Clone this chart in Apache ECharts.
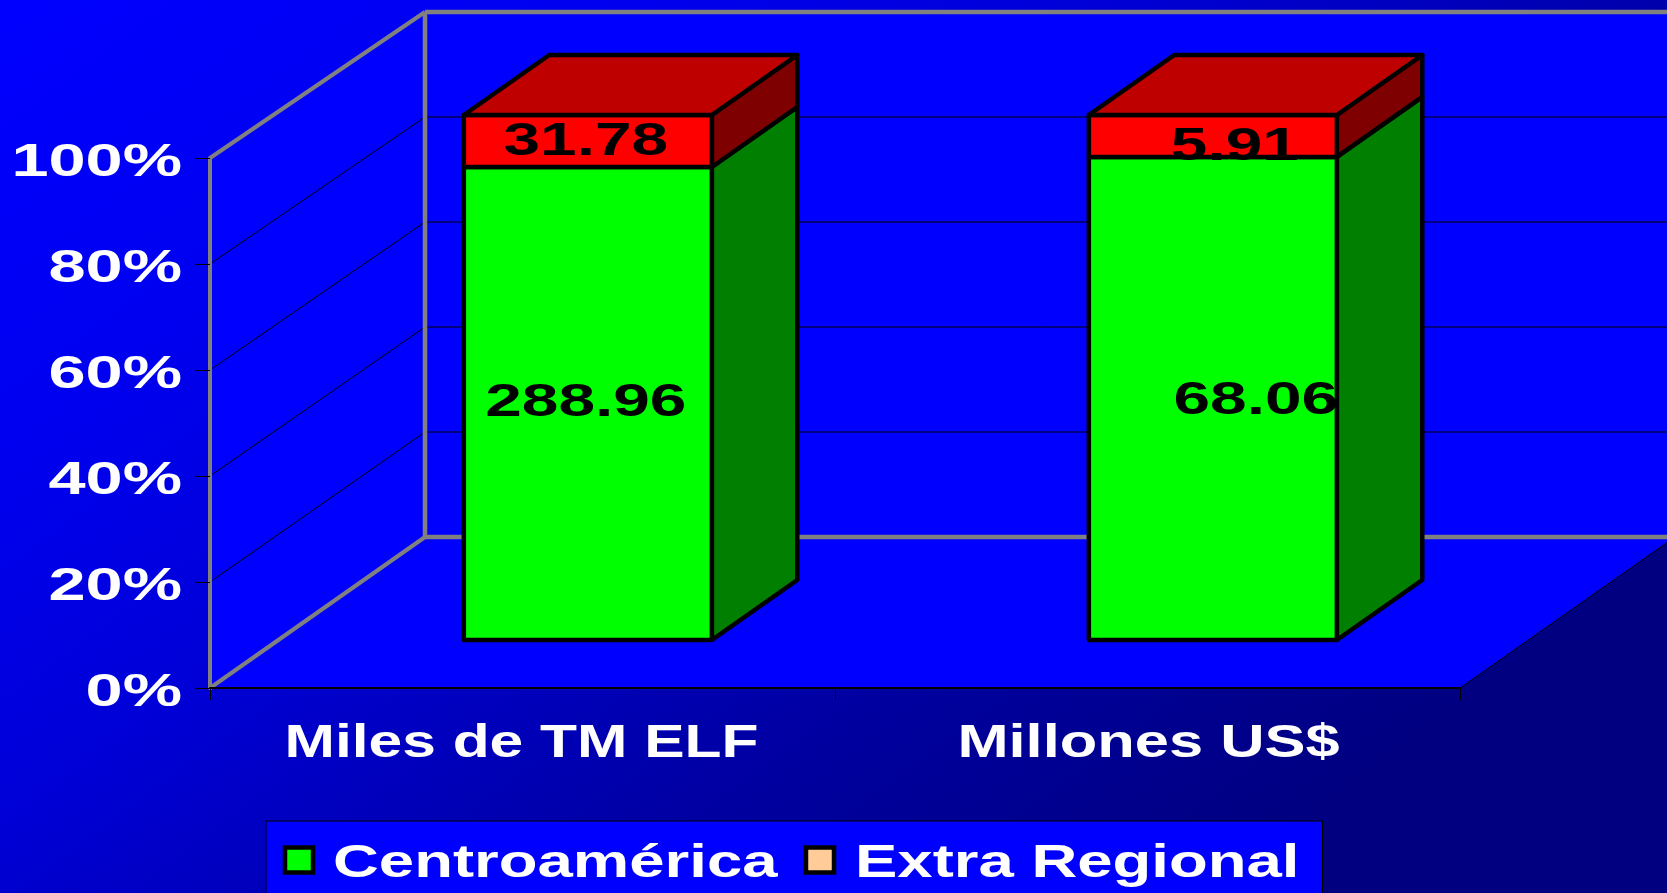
<!DOCTYPE html>
<html>
<head>
<meta charset="utf-8">
<style>html,body{margin:0;padding:0;background:#000080}#c{width:1667px;height:893px}</style>
<script src="https://cdn.jsdelivr.net/npm/echarts@6/dist/echarts.min.js"></script>
</head>
<body>
<div id="c"></div>
<script>
const categories = ['Miles de TM ELF', 'Millones US$'];
const seriesNames = ['Centroamérica', 'Extra Regional'];
const centroamerica = [288.96, 68.06];
const extraRegional = [31.78, 5.91];
const yTicks = [0, 20, 40, 60, 80, 100];
const yTickLabels = ['0%', '20%', '40%', '60%', '80%', '100%'];
const legendColors = ['#00FF00', '#FFCC99'];

const FONT = '"Liberation Sans", Arial, sans-serif';
const DX = 215, DY = 151, VSCALE = 525 / 530;
const D1 = 48 / 151, D2 = 108 / 151, BAR_W = 248, BAR_SHIFT = -3;
const LABEL_SHIFT = [[[-2, 0], [43, 3]], [[-2, 1], [22, 11]]];
const CATEGORY_SHIFT = [0, 2];
const CATEGORY_SCALE = [1.315, 1.335];
const FACE = [
  { front: '#00FF00', side: '#007F00' },
  { front: '#FF0000', side: '#7F0000', top: '#BF0000' }
];

const chart = echarts.init(document.getElementById('c'), null, { renderer: 'canvas' });

function stretched(text, x, y, align, size, sx, fill) {
  return {
    type: 'text', x: x, y: y, scaleX: sx, silent: true,
    style: { text: text, font: 'bold ' + size + 'px ' + FONT, fill: fill, align: align, verticalAlign: 'middle' }
  };
}
function projector(api) {
  const y0 = api.coord([0, 0])[1];
  return function (x, yScreen, d) {
    return [x + d * DX, y0 + (yScreen - y0) * VSCALE - d * DY];
  };
}

function renderWalls(params, api) {
  const cs = params.coordSys, p = projector(api);
  const L = cs.x, R = cs.x + cs.width;
  const yAt = v => api.coord([0, v])[1];
  const y0 = yAt(0), yT = yAt(100);
  const kids = [];
  const poly = (pts, fill) => kids.push({ type: 'polygon', silent: true, shape: { points: pts }, style: { fill: fill, stroke: null } });
  const line = (pts, color, w) => kids.push({ type: 'polyline', silent: true, shape: { points: pts }, style: { fill: null, stroke: color, lineWidth: w } });
  poly([p(L, yT, 1), p(R, yT, 1), p(R, y0, 1), p(L, y0, 1)], '#0000FF');
  poly([[L, yT], p(L, yT, 1), p(L, y0, 1), [L, y0]], '#0000FF');
  poly([[L, y0], p(L, y0, 1), p(R, y0, 1), [R, y0]], '#0000FF');
  yTicks.forEach(t => {
    if (t === 0 || t === 100) return;
    line([[L, yAt(t)], p(L, yAt(t), 1)], '#000000', 1);
    line([p(L, yAt(t), 1), p(R, yAt(t), 1)], '#000000', 1);
  });
  line([[R, y0], p(R, y0, 1)], '#000000', 1);
  line([[L, yT], p(L, yT, 1)], '#808080', 4);
  line([[L, y0], p(L, y0, 1)], '#808080', 4);
  line([p(L, yT, 1), p(R, yT, 1)], '#808080', 4.5);
  line([p(L, y0, 1), p(R, y0, 1)], '#808080', 4.5);
  line([p(L, yT, 1), p(L, y0, 1)], '#808080', 4.5);
  return { type: 'group', children: kids };
}

function renderBar(params, api) {
  const si = params.seriesIndex - 1;
  const i = api.value(0);
  const lo = api.coord([i, api.value(1)]);
  const hi = api.coord([i, api.value(2)]);
  const p = projector(api);
  const x1 = lo[0] + BAR_SHIFT - BAR_W / 2, x2 = x1 + BAR_W;
  const st = f => ({ fill: f, stroke: '#000000', lineWidth: 4.5, lineJoin: 'round' });
  const kids = [];
  const f1 = p(x1, lo[1], D1), f2 = p(x2, lo[1], D1), f3 = p(x2, hi[1], D1), f4 = p(x1, hi[1], D1);
  const b2 = p(x2, lo[1], D2), b3 = p(x2, hi[1], D2), b4 = p(x1, hi[1], D2);
  const face = FACE[si];
  kids.push({ type: 'polygon', silent: true, shape: { points: [f2, b2, b3, f3] }, style: st(face.side) });
  kids.push({ type: 'polygon', silent: true, shape: { points: [f1, f2, f3, f4] }, style: st(face.front) });
  if (face.top) kids.push({ type: 'polygon', silent: true, shape: { points: [f4, f3, b3, b4] }, style: st(face.top) });
  return { type: 'group', children: kids };
}

function renderBarLabel(params, api) {
  const s = api.value(3), i = api.value(0);
  const lo = api.coord([i, api.value(1)]), hi = api.coord([i, api.value(2)]);
  const p = projector(api);
  const a = p(lo[0] + BAR_SHIFT, (lo[1] + hi[1]) / 2, D1);
  const sh = LABEL_SHIFT[s][i];
  return stretched(api.value(4).toFixed(2), a[0] + sh[0], a[1] + sh[1], 'center', 46, 1.43, '#000000');
}

function renderYLabel(params, api) {
  const t = api.value(0);
  const y = api.coord([0, t])[1];
  return stretched(yTickLabels[yTicks.indexOf(t)], 182, y + 5, 'right', 46, 1.45, '#FFFFFF');
}
function renderXLabel(params, api) {
  const i = api.value(0);
  const c = api.coord([i, 0]);
  return stretched(categories[i], c[0] - 1 + CATEGORY_SHIFT[i], 744, 'center', 46, CATEGORY_SCALE[i], '#FFFFFF');
}

function stackRows(values, others, s) {
  return values.map((v, i) => {
    const total = v + others[i];
    const base = s === 0 ? 0 : others[i] / total * 100;
    const top = s === 0 ? v / total * 100 : 100;
    return [i, base, top, s, v];
  });
}
const barDims = ['cat', 'base', 'top', 'stack', 'raw'];
const bg = new echarts.graphic.LinearGradient(0, 0, 861, 1163, [
  { offset: 0, color: '#0000FF' },
  { offset: 0.25, color: '#0000F0' },
  { offset: 0.45, color: '#0000D8' },
  { offset: 0.75, color: '#0000A0' },
  { offset: 1, color: '#000080' }
], true);

const LEG_Y = 864;
chart.setOption({
  animation: false,
  backgroundColor: bg,
  grid: { left: 210, top: 158, width: 1250, height: 530, containLabel: false },
  xAxis: {
    type: 'category', data: categories, z: 2,
    axisLine: { show: true, lineStyle: { color: '#000000', width: 2 } },
    axisTick: { show: true, length: 12, lineStyle: { color: '#000000', width: 1 } },
    axisLabel: { show: false }, splitLine: { show: false }
  },
  yAxis: {
    type: 'value', min: 0, max: 100, interval: 20, z: 2,
    axisLine: { show: true, lineStyle: { color: '#808080', width: 4 } },
    axisTick: { show: true, length: 15, lineStyle: { color: '#000000', width: 1 } },
    axisLabel: { show: false }, splitLine: { show: false }
  },
  graphic: [
    { type: 'rect', silent: true, z: 10, shape: { x: 266, y: 821, width: 1056.5, height: 80 }, style: { fill: '#0000FF', stroke: '#000000', lineWidth: 1 } },
    { type: 'rect', silent: true, z: 11, shape: { x: 285, y: 847.5, width: 28, height: 25 }, style: { fill: legendColors[0], stroke: '#000000', lineWidth: 4.5 } },
    { type: 'rect', silent: true, z: 11, shape: { x: 806, y: 847.5, width: 28, height: 25 }, style: { fill: legendColors[1], stroke: '#000000', lineWidth: 4.5 } },
    Object.assign(stretched(seriesNames[0], 333, LEG_Y, 'left', 46, 1.38, '#FFFFFF'), { z: 11 }),
    Object.assign(stretched(seriesNames[1], 855, LEG_Y, 'left', 46, 1.38, '#FFFFFF'), { z: 11 })
  ],
  series: [
    { type: 'custom', name: 'walls', z: 1, silent: true, data: [[0]], encode: { x: 0 }, renderItem: renderWalls },
    { type: 'custom', name: seriesNames[0], z: 3, silent: true, dimensions: barDims, data: stackRows(centroamerica, extraRegional, 0), encode: { x: 0, y: [1, 2] }, renderItem: renderBar },
    { type: 'custom', name: seriesNames[1], z: 3, silent: true, dimensions: barDims, data: stackRows(extraRegional, centroamerica, 1), encode: { x: 0, y: [1, 2] }, renderItem: renderBar },
    { type: 'custom', name: 'labels', z: 5, silent: true, dimensions: barDims, data: stackRows(centroamerica, extraRegional, 0).concat(stackRows(extraRegional, centroamerica, 1)), encode: { x: 0, y: [1, 2] }, renderItem: renderBarLabel },
    { type: 'custom', name: 'yLabels', z: 5, silent: true, data: yTicks.map(t => [t]), encode: { y: 0 }, renderItem: renderYLabel },
    { type: 'custom', name: 'xLabels', z: 5, silent: true, data: categories.map((c, i) => [i]), encode: { x: 0 }, renderItem: renderXLabel }
  ]
});
</script>
</body>
</html>
